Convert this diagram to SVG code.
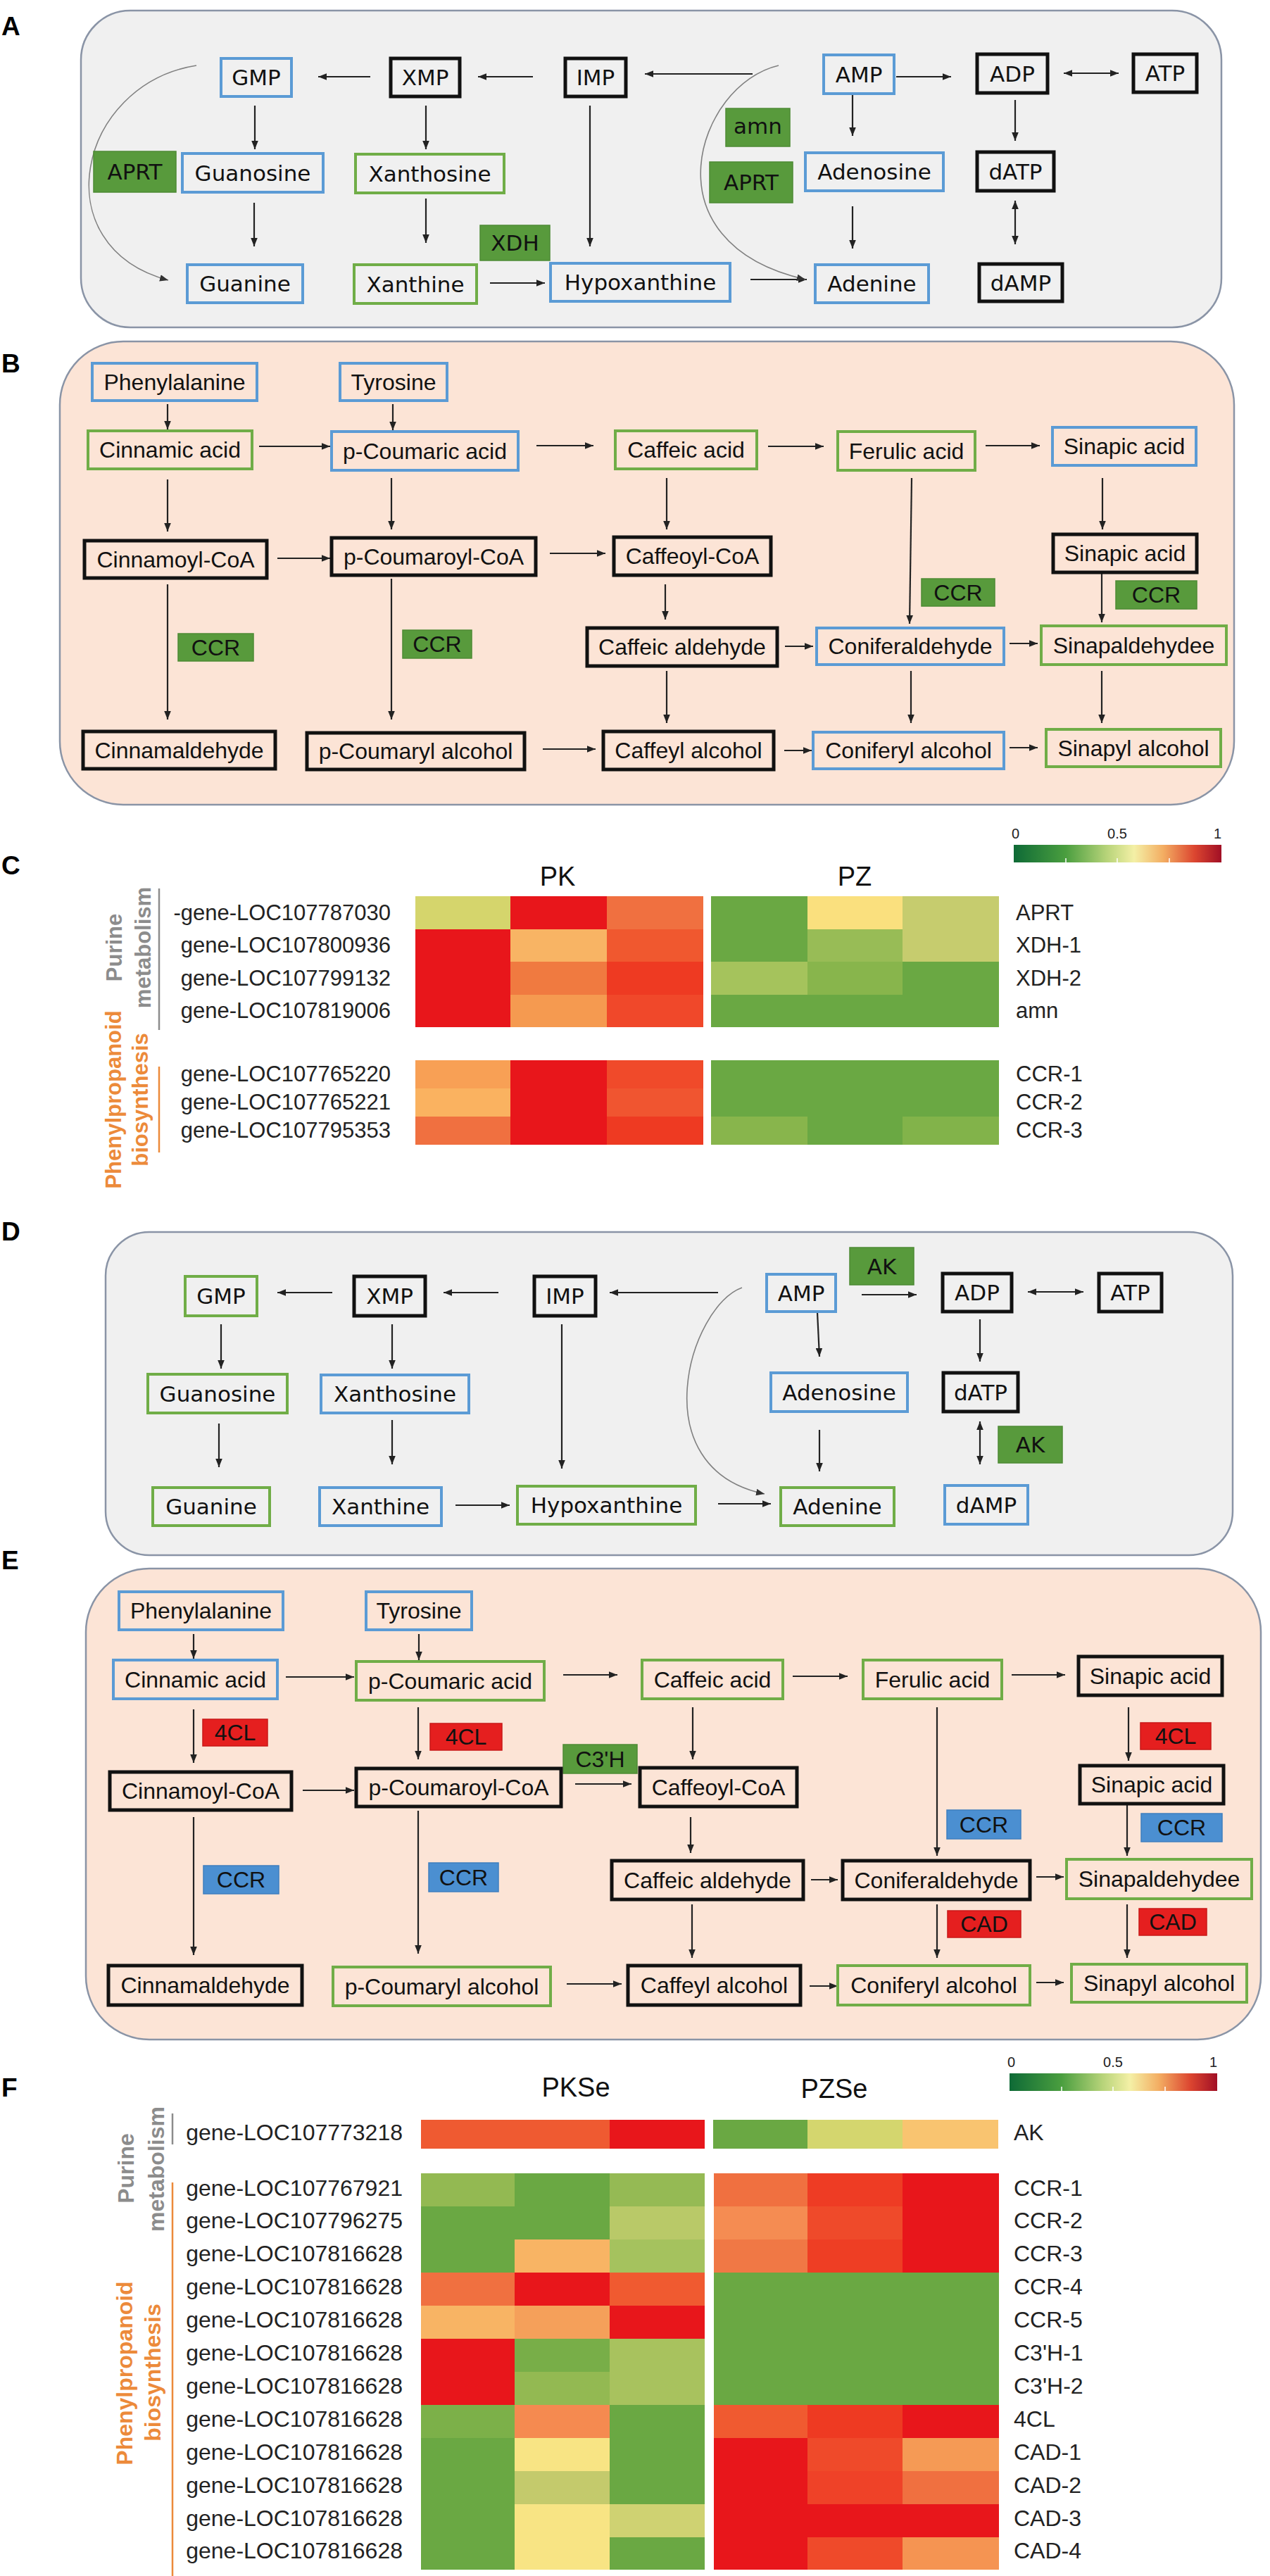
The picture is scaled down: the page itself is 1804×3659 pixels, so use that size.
<svg xmlns="http://www.w3.org/2000/svg" width="1804" height="3659" viewBox="0 0 1804 3659">
<defs>
<marker id="ah" viewBox="0 0 10 8" refX="10" refY="4" markerWidth="5.5" markerHeight="4.4" orient="auto-start-reverse"><path d="M0,0 L10,4 L0,8 z" fill="#222"/></marker>
<marker id="ahg" viewBox="0 0 10 8" refX="10" refY="4" markerWidth="7.5" markerHeight="6" orient="auto-start-reverse"><path d="M0,0 L10,4 L0,8 z" fill="#333"/></marker>
<linearGradient id="cb" x1="0" y1="0" x2="1" y2="0">
<stop offset="0" stop-color="#0e6a36"/><stop offset="0.25" stop-color="#4a9e3f"/><stop offset="0.45" stop-color="#b8d47a"/><stop offset="0.58" stop-color="#f4f0a6"/><stop offset="0.72" stop-color="#f3ad62"/><stop offset="0.87" stop-color="#dc4630"/><stop offset="1" stop-color="#a10f25"/>
</linearGradient>
</defs>
<style>
.pa{fill:#f0f0f0;stroke:#8a94a6;stroke-width:2.5}
.pb{fill:#fce4d6;stroke:#8a94a6;stroke-width:2.5}
.bl{fill:none;stroke:#5b9bd5;stroke-width:4}
.gr{fill:none;stroke:#70ad47;stroke-width:4}
.bk{fill:none;stroke:#111;stroke-width:5}
.eg{fill:#589a3c;stroke:#4d8a34;stroke-width:1.5}
.er{fill:#e51f1f;stroke:#c81818;stroke-width:1.5}
.eb{fill:#4b8fd1;stroke:#3f7fbf;stroke-width:1.5}
.ta{font-family:"DejaVu Sans",sans-serif;font-size:31px;fill:#111;text-anchor:middle}
.tb{font-family:"Liberation Sans",Arial,sans-serif;font-size:32px;fill:#111;text-anchor:middle}
.tc{font-family:"Liberation Sans",Arial,sans-serif;font-size:31px;fill:#222}
.tf{font-family:"Liberation Sans",Arial,sans-serif;font-size:32px;fill:#222}
.lab{font-family:"Liberation Sans",Arial,sans-serif;font-size:37px;font-weight:bold;fill:#000}
.hd{font-family:"Liberation Sans",Arial,sans-serif;font-size:38px;fill:#111;text-anchor:middle}
.cbl{font-family:"Liberation Sans",Arial,sans-serif;font-size:20px;fill:#222}
.vg{font-family:"Liberation Sans",Arial,sans-serif;font-weight:bold;fill:#8c8c8c;text-anchor:middle}
.vo{font-family:"Liberation Sans",Arial,sans-serif;font-weight:bold;fill:#ec8a3a;text-anchor:middle}
.ar{fill:none;stroke:#222;stroke-width:2.2;marker-end:url(#ah)}
.ar2{fill:none;stroke:#222;stroke-width:2.2;marker-end:url(#ah);marker-start:url(#ah)}
.cv{fill:none;stroke:#808080;stroke-width:1.6;marker-end:url(#ahg)}
.r{text-anchor:end}
</style>
<rect x="0" y="0" width="1804" height="3659" fill="#ffffff"/>

<!-- panel labels -->
<text class="lab" x="2" y="50">A</text>
<text class="lab" x="2" y="529">B</text>
<text class="lab" x="2" y="1242">C</text>
<text class="lab" x="2" y="1762">D</text>
<text class="lab" x="2" y="2229">E</text>
<text class="lab" x="2" y="2978">F</text>

<!-- panel backgrounds -->
<rect class="pa" x="115" y="15" width="1620" height="450" rx="70" ry="70"/>
<rect class="pb" x="85" y="485" width="1668" height="658" rx="90" ry="90"/>
<rect class="pa" x="150" y="1750" width="1601" height="459" rx="62" ry="62"/>
<rect class="pb" x="122" y="2228" width="1669" height="669" rx="90" ry="90"/>

<!-- ===== connectors ===== -->
<g id="connectors">
<!-- A -->
<path class="ar" d="M526,109 L452,109"/>
<path class="ar" d="M757,109 L679,109"/>
<path class="ar" d="M1069,105 L916,105"/>
<path class="ar" d="M1273,109 L1351,109"/>
<path class="ar2" d="M1511,104 L1589,104"/>
<path class="ar" d="M362,150 L362,212"/>
<path class="ar" d="M605,150 L605,212"/>
<path class="ar" d="M361,288 L361,350"/>
<path class="ar" d="M605,282 L605,345"/>
<path class="ar" d="M838,150 L838,350"/>
<path class="ar" d="M696,402 L774,402"/>
<path class="ar" d="M1211,133 L1211,193"/>
<path class="ar" d="M1442,142 L1442,200"/>
<path class="ar" d="M1211,293 L1211,353"/>
<path class="ar2" d="M1442,285 L1442,347"/>
<path class="ar" d="M1066,397 L1146,397"/>
<path class="cv" d="M279,93 C110,120 60,350 239,398"/>
<path class="cv" d="M1106,93 C990,120 915,345 1144,397"/>
<!-- B -->
<path class="ar" d="M238,574 L238,610"/>
<path class="ar" d="M558,574 L558,611"/>
<path class="ar" d="M368,634 L469,634"/>
<path class="ar" d="M762,633 L843,633"/>
<path class="ar" d="M1091,634 L1170,634"/>
<path class="ar" d="M1400,633 L1477,633"/>
<path class="ar" d="M238,681 L238,755"/>
<path class="ar" d="M556,679 L556,752"/>
<path class="ar" d="M947,679 L947,752"/>
<path class="ar" d="M1566,679 L1566,752"/>
<path class="ar" d="M394,793 L469,793"/>
<path class="ar" d="M781,786 L860,786"/>
<path class="ar" d="M238,830 L238,1022"/>
<path class="ar" d="M556,822 L556,1022"/>
<path class="ar" d="M945,830 L945,880"/>
<path class="ar" d="M1295,679 L1292,886"/>
<path class="ar" d="M1565,815 L1565,884"/>
<path class="ar" d="M1115,918 L1155,918"/>
<path class="ar" d="M1434,914 L1474,914"/>
<path class="ar" d="M947,953 L947,1027"/>
<path class="ar" d="M1294,953 L1294,1027"/>
<path class="ar" d="M1565,953 L1565,1027"/>
<path class="ar" d="M771,1064 L846,1064"/>
<path class="ar" d="M1114,1066 L1153,1066"/>
<path class="ar" d="M1434,1062 L1474,1062"/>
<!-- D -->
<path class="ar" d="M472,1836 L394,1836"/>
<path class="ar" d="M708,1836 L630,1836"/>
<path class="ar" d="M1020,1836 L866,1836"/>
<path class="ar" d="M1224,1839 L1302,1839"/>
<path class="ar2" d="M1460,1835 L1539,1835"/>
<path class="ar" d="M314,1881 L314,1944"/>
<path class="ar" d="M557,1881 L557,1944"/>
<path class="ar" d="M798,1881 L798,2086"/>
<path class="ar" d="M311,2022 L311,2084"/>
<path class="ar" d="M557,2017 L557,2080"/>
<path class="ar" d="M647,2138 L724,2138"/>
<path class="ar" d="M1161,1864 L1164,1927"/>
<path class="ar" d="M1392,1874 L1392,1934"/>
<path class="ar" d="M1164,2031 L1164,2090"/>
<path class="ar2" d="M1392,2019 L1392,2080"/>
<path class="ar" d="M1020,2136 L1095,2136"/>
<path class="cv" d="M1054,1829 C980,1855 910,2085 1086,2122"/>
<!-- E -->
<path class="ar" d="M275,2321 L275,2356"/>
<path class="ar" d="M595,2321 L595,2358"/>
<path class="ar" d="M406,2382 L503,2382"/>
<path class="ar" d="M800,2379 L877,2379"/>
<path class="ar" d="M1126,2381 L1204,2381"/>
<path class="ar" d="M1437,2379 L1513,2379"/>
<path class="ar" d="M275,2428 L275,2504"/>
<path class="ar" d="M594,2425 L594,2499"/>
<path class="ar" d="M984,2425 L984,2499"/>
<path class="ar" d="M1603,2425 L1603,2501"/>
<path class="ar" d="M430,2543 L503,2543"/>
<path class="ar" d="M817,2534 L897,2534"/>
<path class="ar" d="M275,2581 L275,2777"/>
<path class="ar" d="M594,2572 L594,2775"/>
<path class="ar" d="M981,2581 L981,2632"/>
<path class="ar" d="M1331,2425 L1331,2636"/>
<path class="ar" d="M1601,2564 L1601,2636"/>
<path class="ar" d="M1152,2670 L1190,2670"/>
<path class="ar" d="M1472,2666 L1511,2666"/>
<path class="ar" d="M983,2705 L983,2781"/>
<path class="ar" d="M1331,2705 L1331,2781"/>
<path class="ar" d="M1601,2705 L1601,2781"/>
<path class="ar" d="M805,2818 L883,2818"/>
<path class="ar" d="M1150,2821 L1190,2821"/>
<path class="ar" d="M1472,2816 L1511,2816"/>
</g>

<!-- ===== Panel A nodes ===== -->
<g id="a-gmp"><rect class="bl" x="314" y="83" width="100" height="54"/><text class="ta" x="364" y="121">GMP</text></g>
<g id="a-xmp"><rect class="bk" x="555" y="83" width="98" height="54"/><text class="ta" x="604" y="121">XMP</text></g>
<g id="a-imp"><rect class="bk" x="803" y="83" width="86" height="54"/><text class="ta" x="846" y="121">IMP</text></g>
<g id="a-amp"><rect class="bl" x="1170" y="78" width="100" height="55"/><text class="ta" x="1220" y="117">AMP</text></g>
<g id="a-adp"><rect class="bk" x="1388" y="77" width="100" height="55"/><text class="ta" x="1438" y="116">ADP</text></g>
<g id="a-atp"><rect class="bk" x="1610" y="77" width="90" height="54"/><text class="ta" x="1655" y="115">ATP</text></g>
<g id="a-aprt1"><rect class="eg" x="133" y="215" width="117" height="58"/><text class="ta" x="191.5" y="255">APRT</text></g>
<g id="a-guanosine"><rect class="bl" x="259" y="218" width="200" height="55"/><text class="ta" x="359" y="257">Guanosine</text></g>
<g id="a-xanthosine"><rect class="gr" x="505" y="219" width="211" height="55"/><text class="ta" x="610.5" y="258">Xanthosine</text></g>
<g id="a-guanine"><rect class="bl" x="266" y="376" width="164" height="54"/><text class="ta" x="348" y="414">Guanine</text></g>
<g id="a-xanthine"><rect class="gr" x="503" y="376" width="174" height="55"/><text class="ta" x="590" y="415">Xanthine</text></g>
<g id="a-xdh"><rect class="eg" x="682" y="320" width="99" height="50"/><text class="ta" x="731.5" y="356">XDH</text></g>
<g id="a-hypoxanthine"><rect class="bl" x="782" y="374" width="255" height="54"/><text class="ta" x="909.5" y="412">Hypoxanthine</text></g>
<g id="a-amn"><rect class="eg" x="1031" y="154" width="91" height="54"/><text class="ta" x="1076.5" y="190">amn</text></g>
<g id="a-aprt2"><rect class="eg" x="1008" y="230" width="118" height="58"/><text class="ta" x="1067" y="270">APRT</text></g>
<g id="a-adenosine"><rect class="bl" x="1144" y="217" width="196" height="54"/><text class="ta" x="1242" y="255">Adenosine</text></g>
<g id="a-datp"><rect class="bk" x="1388" y="216" width="109" height="55"/><text class="ta" x="1442.5" y="255">dATP</text></g>
<g id="a-adenine"><rect class="bl" x="1158" y="376" width="161" height="54"/><text class="ta" x="1238.5" y="414">Adenine</text></g>
<g id="a-damp"><rect class="bk" x="1391" y="375" width="118" height="53"/><text class="ta" x="1450" y="413">dAMP</text></g>

<!-- ===== Panel B nodes ===== -->
<g id="b-phe"><rect class="bl" x="131" y="516" width="234" height="53"/><text class="tb" x="248" y="554">Phenylalanine</text></g>
<g id="b-tyr"><rect class="bl" x="483" y="516" width="152" height="53"/><text class="tb" x="559" y="554">Tyrosine</text></g>
<g id="b-cin"><rect class="gr" x="125" y="612" width="233" height="54"/><text class="tb" x="241.5" y="650">Cinnamic acid</text></g>
<g id="b-pcou"><rect class="bl" x="471" y="613" width="265" height="55"/><text class="tb" x="603.5" y="652">p-Coumaric acid</text></g>
<g id="b-caf"><rect class="gr" x="874" y="612" width="201" height="54"/><text class="tb" x="974.5" y="650">Caffeic acid</text></g>
<g id="b-fer"><rect class="gr" x="1190" y="613" width="195" height="55"/><text class="tb" x="1287.5" y="652">Ferulic acid</text></g>
<g id="b-sin"><rect class="bl" x="1495" y="607" width="204" height="54"/><text class="tb" x="1597" y="645">Sinapic acid</text></g>
<g id="b-cinco"><rect class="bk" x="120" y="768" width="259" height="53"/><text class="tb" x="249.5" y="806">Cinnamoyl-CoA</text></g>
<g id="b-pcouco"><rect class="bk" x="471" y="764" width="290" height="53"/><text class="tb" x="616" y="802">p-Coumaroyl-CoA</text></g>
<g id="b-cafco"><rect class="bk" x="872" y="763" width="223" height="54"/><text class="tb" x="983.5" y="801">Caffeoyl-CoA</text></g>
<g id="b-sin2"><rect class="bk" x="1496" y="759" width="204" height="54"/><text class="tb" x="1598" y="797">Sinapic acid</text></g>
<g id="b-ccr1"><rect class="eg" x="253" y="900" width="107" height="39"/><text class="tb" x="306.5" y="931">CCR</text></g>
<g id="b-ccr2"><rect class="eg" x="572" y="895" width="98" height="40"/><text class="tb" x="621" y="926">CCR</text></g>
<g id="b-ccr3"><rect class="eg" x="1309" y="822" width="104" height="39"/><text class="tb" x="1361" y="853">CCR</text></g>
<g id="b-ccr4"><rect class="eg" x="1585" y="825" width="115" height="40"/><text class="tb" x="1642.5" y="856">CCR</text></g>
<g id="b-cafald"><rect class="bk" x="834" y="892" width="270" height="54"/><text class="tb" x="969" y="930">Caffeic aldehyde</text></g>
<g id="b-conald"><rect class="bl" x="1160" y="892" width="266" height="52"/><text class="tb" x="1293" y="929">Coniferaldehyde</text></g>
<g id="b-sinald"><rect class="gr" x="1479" y="889" width="263" height="55"/><text class="tb" x="1610.5" y="928">Sinapaldehydee</text></g>
<g id="b-cinald"><rect class="bk" x="118" y="1039" width="273" height="53"/><text class="tb" x="254.5" y="1077">Cinnamaldehyde</text></g>
<g id="b-pcoual"><rect class="bk" x="436" y="1041" width="309" height="52"/><text class="tb" x="590.5" y="1078">p-Coumaryl alcohol</text></g>
<g id="b-cafal"><rect class="bk" x="857" y="1039" width="242" height="54"/><text class="tb" x="978" y="1077">Caffeyl alcohol</text></g>
<g id="b-conal"><rect class="bl" x="1155" y="1040" width="271" height="52"/><text class="tb" x="1290.5" y="1077">Coniferyl alcohol</text></g>
<g id="b-sinal"><rect class="gr" x="1486" y="1036" width="248" height="53"/><text class="tb" x="1610" y="1074">Sinapyl alcohol</text></g>

<!-- ===== Panel C heatmap ===== -->
<g id="c-heatmap">
<text class="hd" x="792" y="1258">PK</text>
<text class="hd" x="1214" y="1258">PZ</text>
<rect x="1440" y="1200" width="295" height="25" fill="url(#cb)"/>
<path d="M1514,1225 v-6 M1587,1225 v-6 M1661,1225 v-6" stroke="#fff" stroke-width="1.5"/>
<text class="cbl" x="1437" y="1191">0</text>
<text class="cbl" x="1587" y="1191" text-anchor="middle">0.5</text>
<text class="cbl" x="1735" y="1191" text-anchor="end">1</text>
<rect x="590" y="1273" width="135" height="47" fill="#d5d56c"/><rect x="725" y="1273" width="137" height="47" fill="#e8161b"/><rect x="862" y="1273" width="137" height="47" fill="#f07040"/>
<rect x="1010" y="1273" width="137" height="47" fill="#6aa843"/><rect x="1147" y="1273" width="135" height="47" fill="#fae07e"/><rect x="1282" y="1273" width="137" height="47" fill="#c6cc6e"/>
<rect x="590" y="1320" width="135" height="46" fill="#e8161b"/><rect x="725" y="1320" width="137" height="46" fill="#f8b464"/><rect x="862" y="1320" width="137" height="46" fill="#f0582f"/>
<rect x="1010" y="1320" width="137" height="46" fill="#6aa843"/><rect x="1147" y="1320" width="135" height="46" fill="#98bc56"/><rect x="1282" y="1320" width="137" height="46" fill="#c6cc6e"/>
<rect x="590" y="1366" width="135" height="47" fill="#e8161b"/><rect x="725" y="1366" width="137" height="47" fill="#f07a40"/><rect x="862" y="1366" width="137" height="47" fill="#ee3a22"/>
<rect x="1010" y="1366" width="137" height="47" fill="#a5c35c"/><rect x="1147" y="1366" width="135" height="47" fill="#88b54c"/><rect x="1282" y="1366" width="137" height="47" fill="#6aa843"/>
<rect x="590" y="1413" width="135" height="46" fill="#e8161b"/><rect x="725" y="1413" width="137" height="46" fill="#f59a50"/><rect x="862" y="1413" width="137" height="46" fill="#f0482a"/>
<rect x="1010" y="1413" width="409" height="46" fill="#6aa843"/>
<rect x="590" y="1506" width="135" height="40" fill="#f8a055"/><rect x="725" y="1506" width="137" height="40" fill="#e8161b"/><rect x="862" y="1506" width="137" height="40" fill="#f04a2a"/>
<rect x="1010" y="1506" width="409" height="40" fill="#6aa843"/>
<rect x="590" y="1546" width="135" height="40" fill="#fab260"/><rect x="725" y="1546" width="137" height="40" fill="#e8161b"/><rect x="862" y="1546" width="137" height="40" fill="#f05530"/>
<rect x="1010" y="1546" width="409" height="40" fill="#6aa843"/>
<rect x="590" y="1586" width="135" height="40" fill="#f07040"/><rect x="725" y="1586" width="137" height="40" fill="#e8161b"/><rect x="862" y="1586" width="137" height="40" fill="#ee3a22"/>
<rect x="1010" y="1586" width="137" height="40" fill="#88b54c"/><rect x="1147" y="1586" width="135" height="40" fill="#6aa843"/><rect x="1282" y="1586" width="137" height="40" fill="#82b34a"/>
<text class="tc r" x="555" y="1307">-gene-LOC107787030</text>
<text class="tc r" x="555" y="1353">gene-LOC107800936</text>
<text class="tc r" x="555" y="1400">gene-LOC107799132</text>
<text class="tc r" x="555" y="1446">gene-LOC107819006</text>
<text class="tc r" x="555" y="1536">gene-LOC107765220</text>
<text class="tc r" x="555" y="1576">gene-LOC107765221</text>
<text class="tc r" x="555" y="1616">gene-LOC107795353</text>
<text class="tc" x="1443" y="1307">APRT</text>
<text class="tc" x="1443" y="1353">XDH-1</text>
<text class="tc" x="1443" y="1400">XDH-2</text>
<text class="tc" x="1443" y="1446">amn</text>
<text class="tc" x="1443" y="1536">CCR-1</text>
<text class="tc" x="1443" y="1576">CCR-2</text>
<text class="tc" x="1443" y="1616">CCR-3</text>
<line x1="226" y1="1262" x2="226" y2="1463" stroke="#8c8c8c" stroke-width="2.5"/>
<line x1="226" y1="1515" x2="226" y2="1637" stroke="#ec8a3a" stroke-width="2.5"/>
<text class="vg" font-size="31" transform="translate(173,1346) rotate(-90)">Purine</text>
<text class="vg" font-size="31" transform="translate(214,1346) rotate(-90)">metabolism</text>
<text class="vo" font-size="31" transform="translate(172,1562) rotate(-90)">Phenylpropanoid</text>
<text class="vo" font-size="31" transform="translate(210,1562) rotate(-90)">biosynthesis</text>
</g>

<!-- ===== Panel D nodes ===== -->
<g id="d-gmp"><rect class="gr" x="263" y="1813" width="102" height="56"/><text class="ta" x="314" y="1852">GMP</text></g>
<g id="d-xmp"><rect class="bk" x="503" y="1813" width="101" height="56"/><text class="ta" x="553.5" y="1852">XMP</text></g>
<g id="d-imp"><rect class="bk" x="759" y="1813" width="87" height="56"/><text class="ta" x="802.5" y="1852">IMP</text></g>
<g id="d-amp"><rect class="bl" x="1089" y="1810" width="98" height="53"/><text class="ta" x="1138" y="1848">AMP</text></g>
<g id="d-ak1"><rect class="eg" x="1207" y="1772" width="91" height="53"/><text class="ta" x="1252.5" y="1810">AK</text></g>
<g id="d-adp"><rect class="bk" x="1339" y="1809" width="98" height="54"/><text class="ta" x="1388" y="1847">ADP</text></g>
<g id="d-atp"><rect class="bk" x="1561" y="1809" width="89" height="54"/><text class="ta" x="1605.5" y="1847">ATP</text></g>
<g id="d-guanosine"><rect class="gr" x="210" y="1952" width="198" height="55"/><text class="ta" x="309" y="1991">Guanosine</text></g>
<g id="d-xanthosine"><rect class="bl" x="456" y="1953" width="210" height="54"/><text class="ta" x="561" y="1991">Xanthosine</text></g>
<g id="d-adenosine"><rect class="bl" x="1095" y="1950" width="194" height="55"/><text class="ta" x="1192" y="1989">Adenosine</text></g>
<g id="d-datp"><rect class="bk" x="1340" y="1950" width="106" height="55"/><text class="ta" x="1393" y="1989">dATP</text></g>
<g id="d-ak2"><rect class="eg" x="1418" y="2026" width="91" height="52"/><text class="ta" x="1463.5" y="2063">AK</text></g>
<g id="d-guanine"><rect class="gr" x="217" y="2113" width="166" height="54"/><text class="ta" x="300" y="2151">Guanine</text></g>
<g id="d-xanthine"><rect class="bl" x="454" y="2113" width="173" height="54"/><text class="ta" x="540.5" y="2151">Xanthine</text></g>
<g id="d-hypoxanthine"><rect class="gr" x="735" y="2111" width="253" height="54"/><text class="ta" x="861.5" y="2149">Hypoxanthine</text></g>
<g id="d-adenine"><rect class="gr" x="1109" y="2113" width="161" height="54"/><text class="ta" x="1189.5" y="2151">Adenine</text></g>
<g id="d-damp"><rect class="bl" x="1342" y="2110" width="118" height="55"/><text class="ta" x="1401" y="2149">dAMP</text></g>

<!-- ===== Panel E nodes ===== -->
<g id="e-phe"><rect class="bl" x="169" y="2261" width="233" height="54"/><text class="tb" x="285.5" y="2299">Phenylalanine</text></g>
<g id="e-tyr"><rect class="bl" x="520" y="2261" width="150" height="54"/><text class="tb" x="595" y="2299">Tyrosine</text></g>
<g id="e-cin"><rect class="bl" x="161" y="2358" width="233" height="55"/><text class="tb" x="277.5" y="2397">Cinnamic acid</text></g>
<g id="e-pcou"><rect class="gr" x="506" y="2360" width="267" height="55"/><text class="tb" x="639.5" y="2399">p-Coumaric acid</text></g>
<g id="e-caf"><rect class="gr" x="912" y="2358" width="200" height="55"/><text class="tb" x="1012" y="2397">Caffeic acid</text></g>
<g id="e-fer"><rect class="gr" x="1226" y="2358" width="197" height="55"/><text class="tb" x="1324.5" y="2397">Ferulic acid</text></g>
<g id="e-sin"><rect class="bk" x="1532" y="2353" width="204" height="55"/><text class="tb" x="1634" y="2392">Sinapic acid</text></g>
<g id="e-4cl1"><rect class="er" x="288" y="2442" width="92" height="38"/><text class="tb" x="334" y="2472">4CL</text></g>
<g id="e-4cl2"><rect class="er" x="611" y="2448" width="102" height="38"/><text class="tb" x="662" y="2478">4CL</text></g>
<g id="e-c3h"><rect class="eg" x="800" y="2478" width="105" height="41"/><text class="tb" x="852.5" y="2510">C3'H</text></g>
<g id="e-4cl3"><rect class="er" x="1620" y="2447" width="100" height="38"/><text class="tb" x="1670" y="2477">4CL</text></g>
<g id="e-cinco"><rect class="bk" x="156" y="2517" width="258" height="54"/><text class="tb" x="285" y="2555">Cinnamoyl-CoA</text></g>
<g id="e-pcouco"><rect class="bk" x="506" y="2512" width="291" height="54"/><text class="tb" x="651.5" y="2550">p-Coumaroyl-CoA</text></g>
<g id="e-cafco"><rect class="bk" x="909" y="2511" width="223" height="55"/><text class="tb" x="1020.5" y="2550">Caffeoyl-CoA</text></g>
<g id="e-sin2"><rect class="bk" x="1534" y="2508" width="204" height="54"/><text class="tb" x="1636" y="2546">Sinapic acid</text></g>
<g id="e-ccr1"><rect class="eb" x="1345" y="2571" width="105" height="41"/><text class="tb" x="1397.5" y="2603">CCR</text></g>
<g id="e-ccr2"><rect class="eb" x="1621" y="2576" width="115" height="40"/><text class="tb" x="1678.5" y="2607">CCR</text></g>
<g id="e-ccr3"><rect class="eb" x="289" y="2650" width="107" height="40"/><text class="tb" x="342.5" y="2681">CCR</text></g>
<g id="e-ccr4"><rect class="eb" x="609" y="2646" width="99" height="41"/><text class="tb" x="658.5" y="2678">CCR</text></g>
<g id="e-cafald"><rect class="bk" x="869" y="2643" width="272" height="55"/><text class="tb" x="1005" y="2682">Caffeic aldehyde</text></g>
<g id="e-conald"><rect class="bk" x="1197" y="2643" width="266" height="55"/><text class="tb" x="1330" y="2682">Coniferaldehyde</text></g>
<g id="e-sinald"><rect class="gr" x="1515" y="2641" width="263" height="56"/><text class="tb" x="1646.5" y="2680">Sinapaldehydee</text></g>
<g id="e-cad1"><rect class="er" x="1346" y="2714" width="104" height="38"/><text class="tb" x="1398" y="2744">CAD</text></g>
<g id="e-cad2"><rect class="er" x="1618" y="2711" width="96" height="38"/><text class="tb" x="1666" y="2741">CAD</text></g>
<g id="e-cinald"><rect class="bk" x="154" y="2792" width="275" height="56"/><text class="tb" x="291.5" y="2831">Cinnamaldehyde</text></g>
<g id="e-pcoual"><rect class="gr" x="473" y="2794" width="309" height="55"/><text class="tb" x="627.5" y="2833">p-Coumaryl alcohol</text></g>
<g id="e-cafal"><rect class="bk" x="892" y="2792" width="245" height="56"/><text class="tb" x="1014.5" y="2831">Caffeyl alcohol</text></g>
<g id="e-conal"><rect class="gr" x="1190" y="2792" width="273" height="56"/><text class="tb" x="1326.5" y="2831">Coniferyl alcohol</text></g>
<g id="e-sinal"><rect class="gr" x="1522" y="2790" width="249" height="54"/><text class="tb" x="1646.5" y="2828">Sinapyl alcohol</text></g>

<!-- ===== Panel F heatmap ===== -->
<g id="f-heatmap">
<text class="hd" x="818" y="2978" font-size="41">PKSe</text>
<text class="hd" x="1185" y="2980" font-size="41">PZSe</text>
<rect x="1434" y="2945" width="295" height="25" fill="url(#cb)"/>
<path d="M1508,2970 v-6 M1581,2970 v-6 M1655,2970 v-6" stroke="#fff" stroke-width="1.5"/>
<text class="cbl" x="1431" y="2936">0</text>
<text class="cbl" x="1581" y="2936" text-anchor="middle">0.5</text>
<text class="cbl" x="1729" y="2936" text-anchor="end">1</text>
<rect x="598" y="3011" width="268" height="41" fill="#ef5a31"/><rect x="866" y="3011" width="135" height="41" fill="#e8161b"/>
<rect x="1013" y="3011" width="134" height="41" fill="#6aa843"/><rect x="1147" y="3011" width="135" height="41" fill="#d4d66e"/><rect x="1282" y="3011" width="136" height="41" fill="#f9c470"/>
<g>
<rect x="598" y="3087" width="133" height="47" fill="#93b952"/><rect x="731" y="3087" width="135" height="47" fill="#6aa843"/><rect x="866" y="3087" width="135" height="47" fill="#95ba54"/>
<rect x="1014" y="3087" width="133" height="47" fill="#f07040"/><rect x="1147" y="3087" width="135" height="47" fill="#ee3c24"/><rect x="1282" y="3087" width="137" height="47" fill="#e8161b"/>
<rect x="598" y="3134" width="133" height="47" fill="#6aa843"/><rect x="731" y="3134" width="135" height="47" fill="#6aa843"/><rect x="866" y="3134" width="135" height="47" fill="#b9c968"/>
<rect x="1014" y="3134" width="133" height="47" fill="#f58c52"/><rect x="1147" y="3134" width="135" height="47" fill="#ef4a2a"/><rect x="1282" y="3134" width="137" height="47" fill="#e8161b"/>
<rect x="598" y="3181" width="133" height="47" fill="#6aa843"/><rect x="731" y="3181" width="135" height="47" fill="#f8b464"/><rect x="866" y="3181" width="135" height="47" fill="#a5c25e"/>
<rect x="1014" y="3181" width="133" height="47" fill="#f07845"/><rect x="1147" y="3181" width="135" height="47" fill="#ee3e24"/><rect x="1282" y="3181" width="137" height="47" fill="#e8161b"/>
<rect x="598" y="3228" width="133" height="47" fill="#f07040"/><rect x="731" y="3228" width="135" height="47" fill="#e8161b"/><rect x="866" y="3228" width="135" height="47" fill="#f05a30"/>
<rect x="598" y="3275" width="133" height="47" fill="#f8b464"/><rect x="731" y="3275" width="135" height="47" fill="#f5a05a"/><rect x="866" y="3275" width="135" height="47" fill="#e8161b"/>
<rect x="598" y="3322" width="133" height="47" fill="#e8161b"/><rect x="731" y="3322" width="135" height="47" fill="#78ae48"/><rect x="866" y="3322" width="135" height="47" fill="#a8c25e"/>
<rect x="598" y="3369" width="133" height="47" fill="#e8161b"/><rect x="731" y="3369" width="135" height="47" fill="#93b952"/><rect x="866" y="3369" width="135" height="47" fill="#a8c25e"/>
<rect x="1014" y="3228" width="405" height="188" fill="#6aa843"/>
<rect x="598" y="3416" width="133" height="47" fill="#7cb049"/><rect x="731" y="3416" width="135" height="47" fill="#f58a50"/><rect x="866" y="3416" width="135" height="47" fill="#6aa843"/>
<rect x="1014" y="3416" width="133" height="47" fill="#f05a30"/><rect x="1147" y="3416" width="135" height="47" fill="#ee3a22"/><rect x="1282" y="3416" width="137" height="47" fill="#e8161b"/>
<rect x="598" y="3463" width="133" height="47" fill="#6aa843"/><rect x="731" y="3463" width="135" height="47" fill="#f8e484"/><rect x="866" y="3463" width="135" height="47" fill="#6aa843"/>
<rect x="1014" y="3463" width="133" height="47" fill="#e8161b"/><rect x="1147" y="3463" width="135" height="47" fill="#ef4a2a"/><rect x="1282" y="3463" width="137" height="47" fill="#f59a55"/>
<rect x="598" y="3510" width="133" height="47" fill="#6aa843"/><rect x="731" y="3510" width="135" height="47" fill="#c4ca6c"/><rect x="866" y="3510" width="135" height="47" fill="#6aa843"/>
<rect x="1014" y="3510" width="133" height="47" fill="#e8161b"/><rect x="1147" y="3510" width="135" height="47" fill="#ef4228"/><rect x="1282" y="3510" width="137" height="47" fill="#f07040"/>
<rect x="598" y="3557" width="133" height="47" fill="#6aa843"/><rect x="731" y="3557" width="135" height="47" fill="#f8e484"/><rect x="866" y="3557" width="135" height="47" fill="#cfd272"/>
<rect x="1014" y="3557" width="405" height="47" fill="#e8161b"/>
<rect x="598" y="3604" width="133" height="46" fill="#6aa843"/><rect x="731" y="3604" width="135" height="46" fill="#f8e484"/><rect x="866" y="3604" width="135" height="46" fill="#6aa843"/>
<rect x="1014" y="3604" width="133" height="46" fill="#e8161b"/><rect x="1147" y="3604" width="135" height="46" fill="#ef4a2a"/><rect x="1282" y="3604" width="137" height="46" fill="#f59452"/>
</g>
<text class="tf r" x="572" y="3040">gene-LOC107773218</text>
<text class="tf r" x="572" y="3119">gene-LOC107767921</text>
<text class="tf r" x="572" y="3165">gene-LOC107796275</text>
<text class="tf r" x="572" y="3212">gene-LOC107816628</text>
<text class="tf r" x="572" y="3259">gene-LOC107816628</text>
<text class="tf r" x="572" y="3306">gene-LOC107816628</text>
<text class="tf r" x="572" y="3353">gene-LOC107816628</text>
<text class="tf r" x="572" y="3400">gene-LOC107816628</text>
<text class="tf r" x="572" y="3447">gene-LOC107816628</text>
<text class="tf r" x="572" y="3494">gene-LOC107816628</text>
<text class="tf r" x="572" y="3541">gene-LOC107816628</text>
<text class="tf r" x="572" y="3588">gene-LOC107816628</text>
<text class="tf r" x="572" y="3634">gene-LOC107816628</text>
<text class="tf" x="1440" y="3040">AK</text>
<text class="tf" x="1440" y="3119">CCR-1</text>
<text class="tf" x="1440" y="3165">CCR-2</text>
<text class="tf" x="1440" y="3212">CCR-3</text>
<text class="tf" x="1440" y="3259">CCR-4</text>
<text class="tf" x="1440" y="3306">CCR-5</text>
<text class="tf" x="1440" y="3353">C3'H-1</text>
<text class="tf" x="1440" y="3400">C3'H-2</text>
<text class="tf" x="1440" y="3447">4CL</text>
<text class="tf" x="1440" y="3494">CAD-1</text>
<text class="tf" x="1440" y="3541">CAD-2</text>
<text class="tf" x="1440" y="3588">CAD-3</text>
<text class="tf" x="1440" y="3634">CAD-4</text>
<line x1="245" y1="3002" x2="245" y2="3046" stroke="#8c8c8c" stroke-width="2.5"/>
<line x1="245" y1="3100" x2="245" y2="3659" stroke="#ec8a3a" stroke-width="2.5"/>
<text class="vg" font-size="32" transform="translate(190,3080) rotate(-90)">Purine</text>
<text class="vg" font-size="32" transform="translate(233,3081) rotate(-90)">metabolism</text>
<text class="vo" font-size="32" transform="translate(188,3371) rotate(-90)">Phenylpropanoid</text>
<text class="vo" font-size="32" transform="translate(228,3370) rotate(-90)">biosynthesis</text>
</g>
</svg>
